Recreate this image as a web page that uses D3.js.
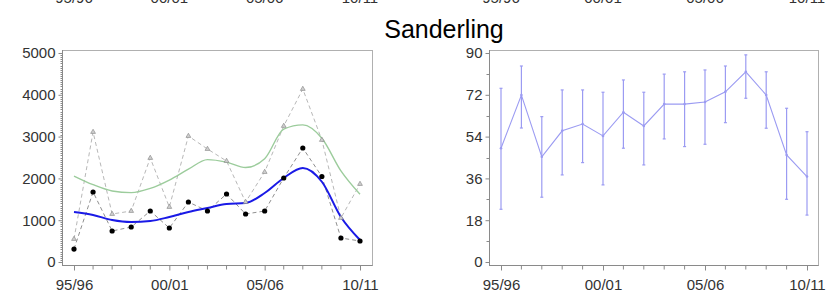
<!DOCTYPE html>
<html><head><meta charset="utf-8">
<script src="https://cdn.jsdelivr.net/npm/d3@7"></script>
<style>body{margin:0;background:#fff}svg{display:block}text{font-family:"Liberation Sans",Arial,sans-serif}</style>
</head><body>
<svg id="c" width="837" height="297"></svg>
<script>
const years = ["95/96","96/97","97/98","98/99","99/00","00/01","01/02","02/03","03/04","04/05","05/06","06/07","07/08","08/09","09/10","10/11"];
const tickLabels = ["95/96","00/01","05/06","10/11"];
const countsA = [310,1675,742,837,1220,813,1435,1220,1627,1148,1220,2010,2727,2045,574,502];
const countsB = [550,3110,1148,1220,2488,1316,3014,2703,2416,1435,2153,3254,4139,2919,1053,1866];
const trendA = [1196,1124,1005,957,980,1077,1196,1292,1388,1411,1650,2010,2250,1920,1077,526];
const trendB = [2057,1850,1700,1660,1760,1960,2220,2450,2390,2260,2470,3180,3280,2960,2180,1620];
const leftTicks = [0,1000,2000,3000,4000,5000];
const pctMean = [49.0,71.9,45.3,56.5,59.4,54.3,64.5,58.6,68.0,68.0,68.9,73.3,81.9,71.9,46.1,36.8];
const pctHigh = [74.8,84.4,62.6,74.1,74.1,73.1,78.4,73.1,80.9,81.9,82.7,84.4,89.2,81.9,66.2,56.1];
const pctLow  = [22.7,57.7,27.9,37.5,42.8,33.2,49.0,41.8,53.0,49.7,50.7,60.0,70.5,57.6,27.0,20.2];
const rightTicks = [0,18,36,54,72,90];
const title = "Sanderling";

const svg = d3.select("#c");
const axisCol = "#8a8a8a", frameCol = "#b0b0b0", labCol = "#333";

// bottoms of the tick labels of the chart above (clipped by the top edge, as in the reference)
function topRemnant(x){
  svg.append("g").selectAll("text").data(tickLabels).join("text")
    .attr("x", d => x(d)).attr("y", 3).attr("text-anchor","middle")
    .attr("font-size",15).attr("fill",labCol).text(d=>d);
}

svg.append("text").attr("x",444).attr("y",38).attr("text-anchor","middle")
  .attr("font-size",25).attr("fill","#000").text(title);

function panel(o){
  const x = d3.scalePoint().domain(years).range([o.x0,o.x1]);
  const y = d3.scaleLinear().domain([0,o.max]).range([262,53]);
  const g = svg.append("g");
  g.append("rect").attr("x",o.left+0.5).attr("y",50.5).attr("width",o.right-o.left).attr("height",215)
    .attr("fill","none").attr("stroke",frameCol);
  const ya = g.append("g").attr("transform",`translate(${o.left+0.5},0)`)
    .call(d3.axisLeft(y).tickValues(o.ticks).tickFormat(d3.format("d")).tickSize(4).tickPadding(3));
  ya.select(".domain").attr("stroke",axisCol).attr("d",`M0,50V265.5`);
  ya.selectAll(".tick line").attr("stroke",axisCol);
  ya.selectAll(".tick text").attr("font-size",15).attr("fill",labCol).attr("font-family","Liberation Sans, Arial, sans-serif");
  const minor = d3.range(0,o.max+1e-9,o.minor).filter(v=>!o.ticks.includes(v));
  g.append("g").selectAll("line").data(minor).join("line")
    .attr("x1",o.left+0.5-o.minorLen).attr("x2",o.left+0.5).attr("y1",d=>Math.round(y(d))+0.5).attr("y2",d=>Math.round(y(d))+0.5)
    .attr("stroke",axisCol);
  const xa = g.append("g").attr("transform",`translate(0,265.5)`)
    .call(d3.axisBottom(x).tickValues(tickLabels).tickSize(5).tickPadding(9));
  xa.select(".domain").attr("stroke",axisCol).attr("d",`M${o.left},0H${o.right+0.5}`);
  xa.selectAll(".tick line").attr("stroke",axisCol);
  xa.selectAll(".tick text").attr("font-size",15).attr("fill",labCol).attr("font-family","Liberation Sans, Arial, sans-serif");
  g.append("g").selectAll("line").data(years.filter(d=>!tickLabels.includes(d))).join("line")
    .attr("x1",d=>x(d)).attr("x2",d=>x(d)).attr("y1",265.5).attr("y2",269.5).attr("stroke",axisCol);
  topRemnant(x);
  return {x,y,g};
}

// LEFT PANEL
{
  const {x,y,g} = panel({x0:74,x1:360,left:62,right:372,max:5000,ticks:leftTicks,minor:50,minorLen:2});
  const line = (arr,curve) => d3.line().x((d,i)=>x(years[i])).y(d=>y(d)).curve(curve)(arr);
  g.append("path").attr("d",line(countsB,d3.curveLinear)).attr("fill","none")
    .attr("stroke","#b8b8b8").attr("stroke-dasharray","4,3").attr("stroke-width",1);
  g.append("path").attr("d",line(countsA,d3.curveLinear)).attr("fill","none")
    .attr("stroke","#909090").attr("stroke-dasharray","4,3").attr("stroke-width",1);
  g.append("path").attr("d",line(trendB,d3.curveMonotoneX)).attr("fill","none")
    .attr("stroke","#9ccc9c").attr("stroke-width",1.4);
  g.append("path").attr("d",line(trendA,d3.curveMonotoneX)).attr("fill","none")
    .attr("stroke","#1a1ae6").attr("stroke-width",2);
  const tri = d3.symbol().type(d3.symbolTriangle).size(10);
  g.append("g").selectAll("path").data(countsB).join("path")
    .attr("transform",(d,i)=>`translate(${x(years[i])},${y(d)})`).attr("d",tri)
    .attr("fill","#d0d0d0").attr("stroke","#808080").attr("stroke-width",0.6);
  g.append("g").selectAll("circle").data(countsA).join("circle")
    .attr("cx",(d,i)=>x(years[i])).attr("cy",d=>y(d)).attr("r",2.6).attr("fill","#000");
}

// RIGHT PANEL
{
  const {x,y,g} = panel({x0:501,x1:807,left:489,right:818,max:90,ticks:rightTicks,minor:9,minorLen:3});
  const col = "#9b9bf2";
  g.append("g").selectAll("line").data(pctMean).join("line")
    .attr("x1",(d,i)=>x(years[i])).attr("x2",(d,i)=>x(years[i]))
    .attr("y1",(d,i)=>y(pctLow[i])).attr("y2",(d,i)=>y(pctHigh[i]))
    .attr("stroke",col).attr("stroke-width",1.2);
  const caps = pctHigh.map((d,i)=>({i,v:d})).concat(pctLow.map((d,i)=>({i,v:d})));
  g.append("g").selectAll("line").data(caps).join("line")
    .attr("x1",d=>x(years[d.i])-1.5).attr("x2",d=>x(years[d.i])+1.5)
    .attr("y1",d=>y(d.v)).attr("y2",d=>y(d.v)).attr("stroke",col).attr("stroke-width",1.2);
  g.append("path").attr("d",d3.line().x((d,i)=>x(years[i])).y(d=>y(d))(pctMean))
    .attr("fill","none").attr("stroke",col).attr("stroke-width",1.1);
  g.append("g").selectAll("circle").data(pctMean).join("circle")
    .attr("cx",(d,i)=>x(years[i])).attr("cy",d=>y(d)).attr("r",1.3).attr("fill",col);
}
</script>
</body></html>
